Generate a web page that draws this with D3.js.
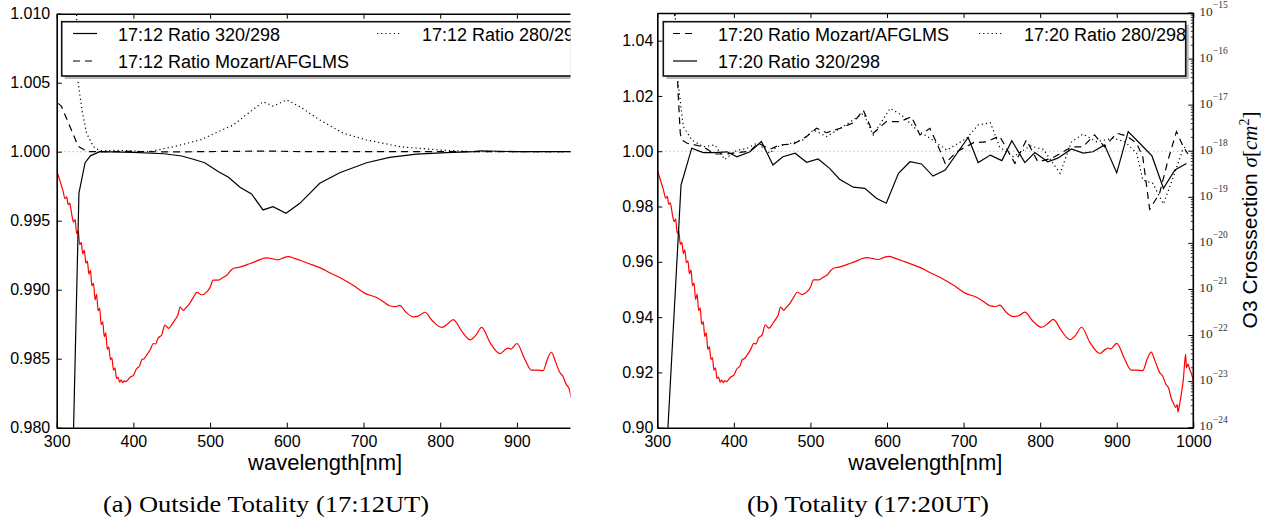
<!DOCTYPE html>
<html><head><meta charset="utf-8">
<script src="https://cdn.jsdelivr.net/npm/d3@7"></script>
<style>body{margin:0;background:#fff}svg{display:block}</style>
</head><body><svg id="c" width="1272" height="524"></svg>
<script>
// ---------------- data ----------------
const wavelengthTicks = [300,400,500,600,700,800,900,1000];
const ratioTicksA = [0.980,0.985,0.990,0.995,1.000,1.005,1.010];
const ratioTicksB = [0.90,0.92,0.94,0.96,0.98,1.00,1.02,1.04];
const logDecades = [-24,-23,-22,-21,-20,-19,-18,-17,-16,-15];

// O3 cross section: [wavelength nm, log10(sigma cm^2)]
const o3Sigma = [
 [300,-18.41],[304,-18.62],[308,-18.84],[311,-19.02],[313,-18.98],[315,-19.15],[317,-19.12],[319,-19.30],
 [320,-19.40],[322,-19.53],[324,-19.47],[326,-19.78],[328,-19.72],[330,-20.02],[332,-19.97],[334,-20.22],
 [336,-20.14],[338,-20.42],[340,-20.38],[342,-20.66],[344,-20.58],[346,-20.92],[348,-20.86],[350,-21.22],
 [352,-21.10],[354,-21.46],[356,-21.40],[358,-21.76],[360,-21.70],[362,-22.02],[364,-21.94],[366,-22.30],
 [368,-22.24],[370,-22.52],[372,-22.48],[374,-22.75],[376,-22.70],[378,-22.93],[380,-22.90],[382,-23.01],
 [384,-22.96],[386,-23.02],[388,-22.98],[390,-23.00],[396,-22.90],[400,-22.86],[404,-22.72],[408,-22.66],
 [411,-22.52],[414,-22.50],[417,-22.43],[422,-22.30],[426,-22.17],[429,-22.18],[432,-22.06],[437,-21.98],
 [441,-21.77],[446,-21.84],[450,-21.76],[454,-21.66],[458,-21.55],[461,-21.38],[465,-21.45],[468,-21.40],
 [472,-21.33],[477,-21.20],[483,-21.06],[489,-21.11],[496,-21.04],[500,-20.95],[504,-20.79],[511,-20.79],
 [516,-20.74],[522,-20.68],[526,-20.60],[530,-20.54],[539,-20.51],[549,-20.45],[559,-20.39],[566,-20.34],
 [574,-20.31],[582,-20.33],[589,-20.35],[595,-20.31],[602,-20.28],[610,-20.32],[617,-20.36],[630,-20.44],
 [643,-20.52],[656,-20.63],[672,-20.76],[687,-20.91],[702,-21.08],[717,-21.17],[725,-21.25],[734,-21.35],
 [742,-21.37],[747,-21.34],[756,-21.50],[765,-21.59],[772,-21.57],[780,-21.49],[790,-21.68],[802,-21.82],
 [810,-21.74],[817,-21.65],[828,-21.90],[839,-22.09],[846,-22.00],[854,-21.82],[865,-22.15],[878,-22.39],
 [885,-22.30],[889,-22.27],[892,-22.29],[900,-22.17],[910,-22.50],[919,-22.75],[927,-22.75],[934,-22.76],
 [940,-22.50],[945,-22.36],[950,-22.55],[956,-22.80],[960,-22.88],[964,-23.05],[968,-23.15],[971,-23.35],
 [975,-23.50],[977,-23.56],[979,-23.50],[980,-23.66],[982,-23.50],[985,-23.20],[987,-22.95],[990,-22.40],
 [991,-22.70],[993,-22.62],[995,-22.72],[998,-22.85],[1000,-22.98]
];

// Panel (a) 17:12
const ratioA_320 = [[315,0.963],[329,0.9970],[337,0.9992],[344,0.9997],[356,1.0000],[400,0.99995],[440,0.99985],
 [463,0.99969],[478,0.99945],[493,0.99920],[511,0.99855],[524,0.99815],[539,0.99742],[554,0.99694],[569,0.99578],
 [582,0.99602],[599,0.99554],[617,0.99626],[643,0.99771],[669,0.99848],[704,0.99920],[734,0.99959],[769,0.99983],
 [808,0.99993],[843,1.0000],[852,1.00007],[900,1.0000],[1000,1.0000]];
const ratioA_mozart = [[302,1.0035],[306,1.0033],[316,1.0020],[328,1.0004],[340,1.0000],[400,1.00002],[450,0.99998],
 [500,1.00001],[580,1.00005],[620,1.0000],[700,1.00001],[800,1.0000],[1000,1.0000]];
const ratioA_280 = [[318,1.0300],[324,1.0130],[326,1.0098],[328,1.0050],[333,1.0030],[339,1.00133],[348,1.00036],
 [356,1.00007],[380,1.0001],[420,1.0000],[452,1.00036],[487,1.00085],[530,1.00193],[569,1.00362],[582,1.00331],
 [600,1.00375],[617,1.00326],[643,1.0023],[674,1.00133],[704,1.00085],[748,1.00036],[800,1.00012],[843,1.0000],[1000,1.0000]];

// Panel (b) 17:20
const ratioB_320 = [[310,0.880],[331,0.9878],[345,1.0011],[360,0.9995],[375,0.9995],[391,0.9998],[404,0.9980],
 [421,0.9998],[436,1.0035],[451,0.9950],[464,0.9980],[480,0.9993],[495,0.9960],[510,0.9972],[525,0.9938],
 [538,0.9899],[556,0.9870],[571,0.9866],[586,0.9830],[599,0.9812],[615,0.9920],[630,0.9962],[645,0.9954],
 [660,0.9910],[676,0.9932],[706,1.0050],[719,0.9959],[735,0.9986],[750,0.9966],[763,1.0038],[780,0.9959],
 [793,0.9995],[810,0.9962],[823,0.9975],[841,1.0008],[856,0.9993],[869,0.9998],[884,1.0023],[900,0.9922],
 [915,1.0071],[930,1.0029],[946,0.9983],[961,0.9866],[976,0.9932],[991,0.9956]];
const ratioB_mozart = [[320,1.0600],[325,1.0400],[327,1.0221],[330,1.0065],[332,1.0041],[339,1.0029],[360,1.0016],
 [375,0.9990],[391,0.9990],[404,0.9995],[421,1.0000],[432,1.0029],[447,1.0007],[460,1.0023],[478,1.0026],
 [495,1.0053],[508,1.0083],[521,1.0067],[539,1.0083],[556,1.0103],[569,1.0149],[582,1.0065],[599,1.0107],
 [617,1.0107],[632,1.0125],[643,1.0059],[656,1.0083],[669,1.0004],[676,0.9956],[691,0.9998],[713,1.0031],
 [730,1.0034],[747,1.0055],[767,0.9956],[782,1.0041],[797,0.9962],[815,0.9974],[841,1.0016],[856,1.0016],
 [871,1.0059],[884,1.0016],[900,1.0065],[913,1.0055],[926,1.0029],[934,0.9980],[943,0.9790],[956,0.9848],
 [967,0.9968],[978,1.0071],[987,1.0016],[993,0.9990]];
const ratioB_280 = [[320,1.0800],[324,1.0450],[327,1.0250],[334,1.0089],[345,1.0041],[360,1.0016],[375,1.0023],
 [388,0.9970],[404,1.0004],[417,1.0010],[430,1.0029],[447,0.9993],[456,1.0016],[475,1.0029],[490,1.0041],
 [504,1.0077],[521,1.0053],[539,1.0083],[569,1.0137],[582,1.0059],[604,1.0155],[619,1.0131],[639,1.0077],
 [660,1.0040],[678,1.0004],[704,1.0047],[719,1.0095],[735,1.0103],[747,1.0016],[765,0.9980],[787,1.0019],
 [804,1.0007],[826,0.9920],[841,1.0034],[856,1.0062],[874,1.0034],[895,1.0047],[911,1.0034],[926,0.9993],
 [934,0.9896],[947,0.9884],[961,0.9809],[974,0.9908],[987,1.0011],[993,1.0020]];

const legendA = ["17:12 Ratio 320/298","17:12 Ratio Mozart/AFGLMS","17:12 Ratio 280/298"];
const legendB = ["17:20 Ratio Mozart/AFGLMS","17:20 Ratio 320/298","17:20 Ratio 280/298"];
const captions = ["(a) Outside Totality (17:12UT)","(b) Totality (17:20UT)"];

// ---------------- drawing ----------------
const svg = d3.select('#c');
const SANS = "'Liberation Sans', Arial, Helvetica, sans-serif";
const SERIF = "'Liberation Serif', 'Times New Roman', serif";
const DASH = "7,5", DOT = "1.2,3";
const defs = svg.append('defs');

function panel(o){
  const g = svg.append('g');
  if (o.clipRight){
    defs.append('clipPath').attr('id','clipfig'+o.id).append('rect')
      .attr('x',0).attr('y',0).attr('width',o.clipRight).attr('height',524);
    g.attr('clip-path','url(#clipfig'+o.id+')');
  }
  const x = d3.scaleLinear().domain([300,1000]).range([o.left,o.right]);
  const y = d3.scaleLinear().domain(o.ydom).range([o.bottom,o.top]);
  const ylog = d3.scaleLog().domain([1e-24,1e-15]).range([o.bottom,o.top]);

  defs.append('clipPath').attr('id','clipplot'+o.id).append('rect')
    .attr('x',o.left).attr('y',o.top).attr('width',o.right-o.left).attr('height',o.bottom-o.top);
  const plot = g.append('g').attr('clip-path','url(#clipplot'+o.id+')');

  // reference line at 1.0
  plot.append('line').attr('x1',o.left).attr('x2',o.right).attr('y1',y(1)).attr('y2',y(1))
    .attr('stroke','#9a9a9a').attr('stroke-width',1).attr('stroke-dasharray','1,3');

  const line = d3.line().x(d=>x(d[0])).y(d=>y(d[1]));
  const lineLog = d3.line().curve(d3.curveMonotoneX).x(d=>x(d[0])).y(d=>ylog(Math.pow(10,d[1])));

  plot.append('path').attr('d',lineLog(o3Sigma)).attr('fill','none').attr('stroke','#ff0000').attr('stroke-width',1.2);
  o.series.forEach(s=>{
    plot.append('path').attr('d',line(s.data)).attr('fill','none').attr('stroke','#000')
      .attr('stroke-width',1.2).attr('stroke-dasharray',s.dash||null);
  });

  // axes
  const axB = g.append('g').attr('transform',`translate(0,${o.bottom})`)
    .call(d3.axisBottom(x).tickValues(wavelengthTicks).tickSize(-5).tickSizeOuter(0).tickPadding(7.5).tickFormat(d3.format('d')));
  const axT = g.append('g').attr('transform',`translate(0,${o.top})`)
    .call(d3.axisTop(x).tickValues(wavelengthTicks).tickSize(-5).tickSizeOuter(0).tickFormat(''));
  const axL = g.append('g').attr('transform',`translate(${o.left},0)`)
    .call(d3.axisLeft(y).tickValues(o.yticks).tickSize(-5).tickSizeOuter(0).tickPadding(o.ypad).tickFormat(d3.format(o.yfmt)));
  [axB,axT,axL].forEach(a=>{
    a.select('.domain').attr('stroke','#000').attr('stroke-width',1.6);
    a.selectAll('.tick line').attr('stroke','#000').attr('stroke-width',1);
    a.selectAll('text').attr('font-family',SANS).attr('font-size',16).attr('fill','#000');
  });
  // right spine + log axis
  g.append('line').attr('x1',o.right).attr('x2',o.right).attr('y1',o.top).attr('y2',o.bottom)
    .attr('stroke','#000').attr('stroke-width',1.6);
  if (o.logAxis){
    const minor = [];
    logDecades.forEach(e=>{ if(e<-15) for(let m=2;m<=9;m++) minor.push(m*Math.pow(10,e)); });
    g.selectAll('.mtick').data(minor).enter().append('line')
      .attr('x1',o.right).attr('x2',o.right-2.5).attr('y1',d=>ylog(d)).attr('y2',d=>ylog(d))
      .attr('stroke','#000').attr('stroke-width',0.8);
    const maj = g.selectAll('.ltick').data(logDecades).enter().append('g')
      .attr('transform',e=>`translate(${o.right},${ylog(Math.pow(10,e))})`);
    maj.append('line').attr('x1',0).attr('x2',-5).attr('stroke','#000').attr('stroke-width',1);
    const t = maj.append('text').attr('x',6).attr('y',2.5).attr('font-family',SERIF).attr('font-size',13.5).attr('fill','#333');
    t.append('tspan').text('10');
    t.append('tspan').attr('dy',-7.5).attr('font-size',9.5).text(e=>'\u2212'+Math.abs(e));
    const title = g.append('text').attr('transform',`translate(${o.right+64},220) rotate(-90)`)
      .attr('text-anchor','middle').attr('font-family',SANS).attr('font-size',21).attr('fill','#000');
    title.append('tspan').text('O3 Crosssection ');
    title.append('tspan').attr('font-family',SERIF).attr('font-style','italic').text('\u03c3');
    title.append('tspan').attr('font-family',SERIF).text('[');
    title.append('tspan').attr('font-family',SERIF).attr('font-style','italic').text('cm');
    title.append('tspan').attr('font-family',SERIF).attr('font-size',14).attr('dy',-8).text('2');
    title.append('tspan').attr('font-family',SERIF).attr('dy',8).text(']');
  }

  // x label
  g.append('text').attr('x',(o.left+o.right)/2).attr('y',470).attr('text-anchor','middle')
    .attr('font-family',SANS).attr('font-size',22).attr('fill','#000').text('wavelength[nm]');

  // legend
  const L = o.legend;
  const lg = g.append('g');
  lg.append('rect').attr('x',L.x+3).attr('y',L.y+3).attr('width',L.w).attr('height',L.h).attr('fill','#b8b8b8');
  lg.append('rect').attr('x',L.x).attr('y',L.y).attr('width',L.w).attr('height',L.h)
    .attr('fill','#fff').attr('stroke','#111').attr('stroke-width',1.6);
  L.items.forEach(it=>{
    lg.append('line').attr('x1',it.x).attr('x2',it.x+24).attr('y1',it.y).attr('y2',it.y)
      .attr('stroke','#000').attr('stroke-width',1.2).attr('stroke-dasharray',it.dash||null);
    lg.append('text').attr('x',it.x+45).attr('y',it.y+7).attr('font-family',SANS).attr('font-size',18)
      .attr('fill','#000').text(it.label);
  });

  // caption
  svg.append('text').attr('x',o.capX).attr('y',512).attr('text-anchor','middle')
    .attr('font-family',SERIF).attr('font-size',22.5).attr('fill','#000')
    .attr('textLength',o.capW).attr('lengthAdjust','spacingAndGlyphs').text(o.caption);
}

panel({
  id:'a', left:56.7, right:56.7+700*0.767, top:13.7, bottom:427.7, clipRight:570.5,
  ydom:[0.980,1.010], yticks:ratioTicksA, yfmt:'.3f', ypad:6.5,
  series:[{data:ratioA_320},{data:ratioA_mozart,dash:DASH},{data:ratioA_280,dash:DOT}],
  legend:{x:61.7,y:21.7,w:530,h:54.3,items:[
    {x:73,y:33.5,label:legendA[0]},{x:73,y:61,label:legendA[1],dash:DASH},{x:377,y:33.5,label:legendA[2],dash:DOT}]},
  caption:captions[0], capX:266, capW:326
});
panel({
  id:'b', left:657.3, right:1193.3, top:13, bottom:427.7, logAxis:true,
  ydom:[0.90,1.05], yticks:ratioTicksB, yfmt:'.2f', ypad:4,
  series:[{data:ratioB_320},{data:ratioB_mozart,dash:DASH},{data:ratioB_280,dash:DOT}],
  legend:{x:663.3,y:21.7,w:522.4,h:54.3,items:[
    {x:673,y:33.5,label:legendB[0],dash:DASH},{x:673,y:61,label:legendB[1]},{x:979,y:33.5,label:legendB[2],dash:DOT}]},
  caption:captions[1], capX:868, capW:242
});
</script>
</body></html>
